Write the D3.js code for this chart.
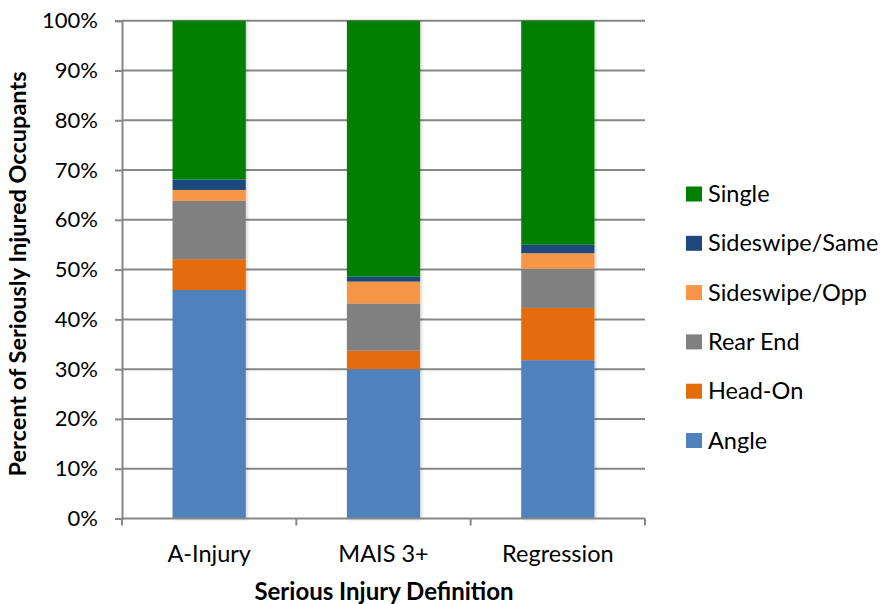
<!DOCTYPE html>
<html>
<head>
<meta charset="utf-8">
<script src="https://cdn.jsdelivr.net/npm/d3@7"></script>
<style>
  html, body { margin: 0; padding: 0; background: #fff; }
  svg { display: block; font-family: Lato, "Open Sans", sans-serif; }
</style>
</head>
<body>
<svg id="chart" width="884" height="604"></svg>
<script>
// Share of seriously injured occupants by crash type (percent)
const categories = ["A-Injury", "MAIS 3+", "Regression"];
const seriesNames = ["Angle", "Head-On", "Rear End", "Sideswipe/Opp", "Sideswipe/Same", "Single"];
const angle        = [45.9, 30.0, 31.8];
const headOn       = [6.2, 3.7, 10.5];
const rearEnd      = [11.7, 9.5, 7.9];
const sideswipeOpp = [2.2, 4.4, 3.1];
const sideswipeSame= [2.1, 1.0, 1.7];
const single       = [31.9, 51.4, 45.0];
const seriesColors = ["#4F81BD", "#E46C0A", "#808080", "#F79646", "#1F497D", "#008000"];
const yTicks = [0, 10, 20, 30, 40, 50, 60, 70, 80, 90, 100];

const seriesValues = [angle, headOn, rearEnd, sideswipeOpp, sideswipeSame, single];
const rows = categories.map((c, i) => {
  const r = { category: c };
  seriesNames.forEach((s, k) => { r[s] = seriesValues[k][i]; });
  return r;
});

const svg = d3.select("#chart");
const margin = { left: 122, right: 239, top: 20.7, bottom: 85.5 };
const W = 884, H = 604;
const x = d3.scaleBand().domain(categories).range([margin.left, W - margin.right]).padding(0);
const y = d3.scaleLinear().domain([0, 100]).range([H - margin.bottom, margin.top]);
const color = d3.scaleOrdinal().domain(seriesNames).range(seriesColors);
const barFrac = 0.42;

const defs = svg.append("defs");
const f = defs.append("filter").attr("id", "shadow").attr("x", "-10%").attr("y", "-5%").attr("width", "130%").attr("height", "110%");
f.append("feDropShadow").attr("dx", 1.5).attr("dy", 1).attr("stdDeviation", 1.5)
  .attr("flood-color", "#000").attr("flood-opacity", 0.18);

// gridlines
svg.append("g")
  .selectAll("line").data(yTicks.filter(d => d > 0)).join("line")
  .attr("x1", margin.left).attr("x2", W - margin.right)
  .attr("y1", d => y(d)).attr("y2", d => y(d))
  .attr("stroke", "#878787").attr("stroke-width", 2);

// stacked bars
const stacked = d3.stack().keys(seriesNames)(rows);
const bw = x.bandwidth() * barFrac;
const barsG = svg.append("g").attr("filter", "url(#shadow)");
barsG.selectAll("g").data(stacked).join("g")
  .attr("fill", d => color(d.key))
  .selectAll("rect").data(d => d).join("rect")
  .attr("x", d => x(d.data.category) + (x.bandwidth() - bw) / 2)
  .attr("width", bw)
  .attr("y", d => y(d[1]))
  .attr("height", d => y(d[0]) - y(d[1]));

// y axis
const yAxis = d3.axisLeft(y).tickValues(yTicks).tickFormat(d => d + "%").tickSize(7).tickPadding(17);
const gy = svg.append("g").attr("transform", `translate(${margin.left},0)`).call(yAxis);
gy.select(".domain").attr("stroke", "#878787").attr("stroke-width", 2);
gy.selectAll(".tick line").attr("stroke", "#878787").attr("stroke-width", 2);
gy.selectAll(".tick text").attr("font-size", 22).attr("fill", "#000").attr("font-family", "Lato, sans-serif");

// x axis with ticks between categories
const xAxisY = y(0);
const gx = svg.append("g");
gx.append("line").attr("x1", margin.left).attr("x2", W - margin.right)
  .attr("y1", xAxisY).attr("y2", xAxisY).attr("stroke", "#878787").attr("stroke-width", 2);
const bounds = categories.map(c => x(c)).concat([x(categories[categories.length - 1]) + x.bandwidth()]);
gx.selectAll("line.tk").data(bounds).join("line").attr("class", "tk")
  .attr("x1", d => d).attr("x2", d => d)
  .attr("y1", xAxisY).attr("y2", xAxisY + 7)
  .attr("stroke", "#878787").attr("stroke-width", 2);
gx.selectAll("text").data(categories).join("text")
  .attr("x", d => x(d) + x.bandwidth() / 2).attr("y", 562)
  .attr("text-anchor", "middle").attr("font-size", 23.5).attr("fill", "#000")
  .text(d => d);

// axis titles
svg.append("text").attr("x", 384).attr("y", 600).attr("text-anchor", "middle")
  .attr("font-size", 24).attr("font-weight", "bold").text("Serious Injury Definition");
svg.append("text").attr("transform", "translate(26,274) rotate(-90)").attr("text-anchor", "middle")
  .attr("font-size", 23.5).attr("font-weight", "bold").text("Percent of Seriously Injured Occupants");

// legend (top entry = last series)
const legendItems = seriesNames.slice().reverse();
const lg = svg.append("g").selectAll("g").data(legendItems).join("g")
  .attr("transform", (d, i) => `translate(686, ${194 + i * 49.3})`);
lg.append("rect").attr("x", 0).attr("y", -7.5).attr("width", 16).attr("height", 15).attr("fill", d => color(d));
lg.append("text").attr("x", 22).attr("y", 8).attr("font-size", 23.5).attr("fill", "#000").text(d => d);
</script>
</body>
</html>
